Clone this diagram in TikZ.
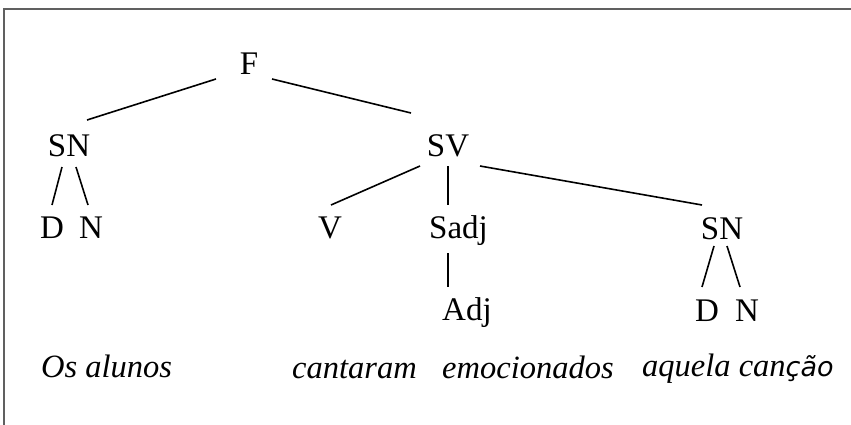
\documentclass[tikz,border=0pt]{standalone}
\usepackage{fontspec}
\setmainfont{Liberation Serif}
\newfontfamily\sansobl{DejaVu Sans}[ItalicFont={DejaVu Sans Oblique}]
\begin{document}
\begin{tikzpicture}[x=1pt,y=-1pt,
  lbl/.style={inner sep=0pt,anchor=base,font=\fontsize{33}{38}\selectfont},
  lblw/.style={lbl,anchor=base west},
  wrd/.style={lblw,font=\fontsize{32.5}{38}\selectfont\itshape},
  edge/.style={line width=1.6pt,black},
  frame/.style={line width=2pt,draw={rgb,255:red,96;green,96;blue,96}}]
\useasboundingbox (0,0) rectangle (851,425);
\draw[frame] (4,425) -- (4,9) -- (851,9);
% nodes
\node[lbl] (F) at (249,75) {F};
\node[lbl] (SN1) at (69,157) {SN};
\node[lbl] (SV) at (448,157) {SV};
\node[lbl] (D1) at (52,238) {D};
\node[lbl] (N1) at (91,238) {N};
\node[lbl] (V) at (330,238) {V};
\node[lblw] (Sadj) at (429,238) {Sadj};
\node[lbl] (SN2) at (722,239) {SN};
\node[lblw] (Adj) at (442,320) {Adj};
\node[lbl] (D2) at (707,321) {D};
\node[lbl] (N2) at (747,321) {N};
\node[wrd] (w1) at (41,377) {Os alunos};
\node[wrd] (w2) at (292,378) {cantaram};
\node[wrd] (w3) at (442,378) {emocionados};
\node[wrd] (w4) at (642,376) {aquela can{\sansobl\fontsize{27}{32}\selectfont\itshape ção}};
% connector end points
\coordinate (Fl) at (216,79);   \coordinate (SN1t) at (87,120);
\coordinate (Fr) at (272,79);   \coordinate (SVt) at (411,113);
\coordinate (SN1l) at (62,167); \coordinate (D1t) at (52,205);
\coordinate (SN1r) at (76,167); \coordinate (N1t) at (88,205);
\coordinate (SVl) at (420,166); \coordinate (Vt) at (331,205);
\coordinate (SVm) at (448,166); \coordinate (Sadjt) at (448,205);
\coordinate (SVr) at (480,166); \coordinate (SN2t) at (702,205);
\coordinate (Sadjb) at (448,253); \coordinate (Adjt) at (448,287);
\coordinate (SN2l) at (714,246); \coordinate (D2t) at (702,287);
\coordinate (SN2r) at (727,246); \coordinate (N2t) at (740,287);
% connectors
\draw[edge] (Fl) -- (SN1t);
\draw[edge] (Fr) -- (SVt);
\draw[edge] (SN1l) -- (D1t);
\draw[edge] (SN1r) -- (N1t);
\draw[edge] (SVl) -- (Vt);
\draw[edge] (SVm) -- (Sadjt);
\draw[edge] (SVr) -- (SN2t);
\draw[edge] (Sadjb) -- (Adjt);
\draw[edge] (SN2l) -- (D2t);
\draw[edge] (SN2r) -- (N2t);
\end{tikzpicture}
\end{document}
